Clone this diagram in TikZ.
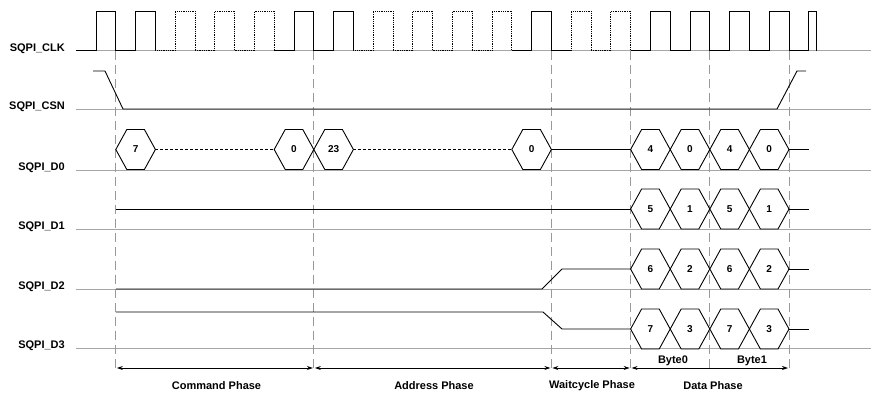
\documentclass[tikz,border=0pt]{standalone}
\usepackage{fontspec}
\setmainfont{Liberation Sans}
\usetikzlibrary{arrows.meta}
\newcommand{\hexval}[5]{% x1, x2, ymid, text, name
  \draw[sig] (#1,#3) -- ({#1+11},{#3-20}) -- ({#2-11},{#3-20}) -- (#2,#3) -- ({#2-11},{#3+20}) -- ({#1+11},{#3+20}) -- cycle;
  \node[hexv] (#5) at ({(#1+#2)/2},#3) {#4};
}
\begin{document}
\begin{tikzpicture}[x=1pt,y=-1pt,
  base/.style={draw=black!35, line width=0.8pt},
  sig/.style={draw=black, line width=0.9pt, line join=miter},
  dotsig/.style={draw=black, line width=0.8pt, densely dotted},
  busdash/.style={draw=black, line width=0.8pt, dash pattern=on 3pt off 2pt},
  guide/.style={draw=black!40, line width=0.8pt, dash pattern=on 9pt off 5pt},
  lbl/.style={font=\bfseries\fontsize{11}{13}\selectfont, anchor=base east, inner sep=0pt},
  phase/.style={font=\bfseries\fontsize{11}{13}\selectfont, inner sep=0pt},
  hexv/.style={font=\bfseries\fontsize{10}{12}\selectfont, inner sep=0pt},
  dim/.style={draw=black, line width=0.8pt, shorten <=1pt, shorten >=1pt,
    {Stealth[length=6pt,width=4pt]}-{Stealth[length=6pt,width=4pt]}}
]
\useasboundingbox (0,0) rectangle (871,394);

% baselines
\foreach \yy in {50.5,109,170,229,289,348} \draw[base] (76,\yy) -- (871,\yy);

% signal labels
\node[lbl] (lclk) at (65,51) {SQPI\_CLK};
\node[lbl] (lcsn) at (65,109.5) {SQPI\_CSN};
\node[lbl] (ld0) at (65,170) {SQPI\_D0};
\node[lbl] (ld1) at (65,229.5) {SQPI\_D1};
\node[lbl] (ld2) at (65,289) {SQPI\_D2};
\node[lbl] (ld3) at (65,348.5) {SQPI\_D3};

% guide lines (falling clock edges)
\foreach \k/\nm in {0/g0,5/g5,11/g11,13/g13,15/g15,17/g17} {
  \pgfmathsetmacro{\fx}{115.8+39.6*\k}
  \coordinate (\nm top) at (\fx,50.5);
  \coordinate (\nm) at (\fx,368);
  \draw[guide] (\nm top) -- (\nm);
}

% clock: low segments
\foreach \k in {0,1,5,6,11,12,14,15,16,17,18} {
  \pgfmathsetmacro{\rx}{96+39.6*\k}
  \draw[sig] ({\rx-19.8},50.5) -- (\rx,50.5);
}
\foreach \k in {2,3,4,7,8,9,10,13} {
  \pgfmathsetmacro{\rx}{96+39.6*\k}
  \draw[dotsig] ({\rx-19.8},50.5) -- (\rx,50.5);
}
% clock: pulses
\foreach \k in {0,1,5,6,11,14,15,16,17} {
  \pgfmathsetmacro{\rx}{96+39.6*\k}
  \draw[sig] (\rx,50.5) -- (\rx,11) -- ({\rx+19.8},11) -- ({\rx+19.8},50.5);
}
\foreach \k in {2,3,4,7,8,9,10,12,13} {
  \pgfmathsetmacro{\rx}{96+39.6*\k}
  \draw[dotsig] (\rx,50.5) -- (\rx,11) -- ({\rx+19.8},11) -- ({\rx+19.8},50.5);
}
\draw[sig] (808.8,50.5) -- (808.8,11) -- (816,11) -- (816,50.5);

% chip select
\draw[sig] (93,71) -- (105,71) -- (123,109) -- (777,109) -- (797,71) -- (806,71);

% D0
\hexval{115.8}{155.4}{149.5}{7}{d0a}
\draw[busdash] (155.4,149.5) -- (274.2,149.5);
\hexval{274.2}{313.8}{149.5}{0}{d0b}
\hexval{313.8}{353.4}{149.5}{23}{d0c}
\draw[busdash] (353.4,149.5) -- (511.8,149.5);
\hexval{511.8}{551.4}{149.5}{0}{d0d}
\draw[sig] (551.4,149.5) -- (630.6,149.5);
\hexval{630.6}{670.2}{149.5}{4}{d0e}
\hexval{670.2}{709.8}{149.5}{0}{d0f}
\hexval{709.8}{749.4}{149.5}{4}{d0g}
\hexval{749.4}{789.0}{149.5}{0}{d0h}
\draw[sig] (789,149.5) -- (809,149.5);

% D1
\draw[sig] (115.8,209) -- (630.6,209);
\hexval{630.6}{670.2}{209}{5}{d1e}
\hexval{670.2}{709.8}{209}{1}{d1f}
\hexval{709.8}{749.4}{209}{5}{d1g}
\hexval{749.4}{789.0}{209}{1}{d1h}
\draw[sig] (789,209) -- (809,209);

% D2
\draw[sig] (115.8,289) -- (542,289) -- (562,269) -- (630.6,269);
\hexval{630.6}{670.2}{269}{6}{d2e}
\hexval{670.2}{709.8}{269}{2}{d2f}
\hexval{709.8}{749.4}{269}{6}{d2g}
\hexval{749.4}{789.0}{269}{2}{d2h}
\draw[sig] (789,269) -- (809,269);

% D3
\draw[sig] (115.8,312) -- (543,312) -- (562,329) -- (630.6,329);
\hexval{630.6}{670.2}{329}{7}{d3e}
\hexval{670.2}{709.8}{329}{3}{d3f}
\hexval{709.8}{749.4}{329}{7}{d3g}
\hexval{749.4}{789.0}{329}{3}{d3h}
\draw[sig] (789,329) -- (809,329);

% phase arrows
\draw[dim] (g0) -- (g5);
\draw[dim] (g5) -- (g11);
\draw[dim] (g11) -- (g13);
\draw[dim] (g13) -- (g17);

% phase labels
\node[phase] (pcmd) at (216.5,386) {Command Phase};
\node[phase] (padr) at (434,386) {Address Phase};
\node[phase] (pwait) at (592,386) {Waitcycle Phase};
\node[phase] (pdata) at (713,386) {Data Phase};
\node[phase] (b0) at (673,360.5) {Byte0};
\node[phase] (b1) at (752,360.5) {Byte1};
\end{tikzpicture}
\end{document}
